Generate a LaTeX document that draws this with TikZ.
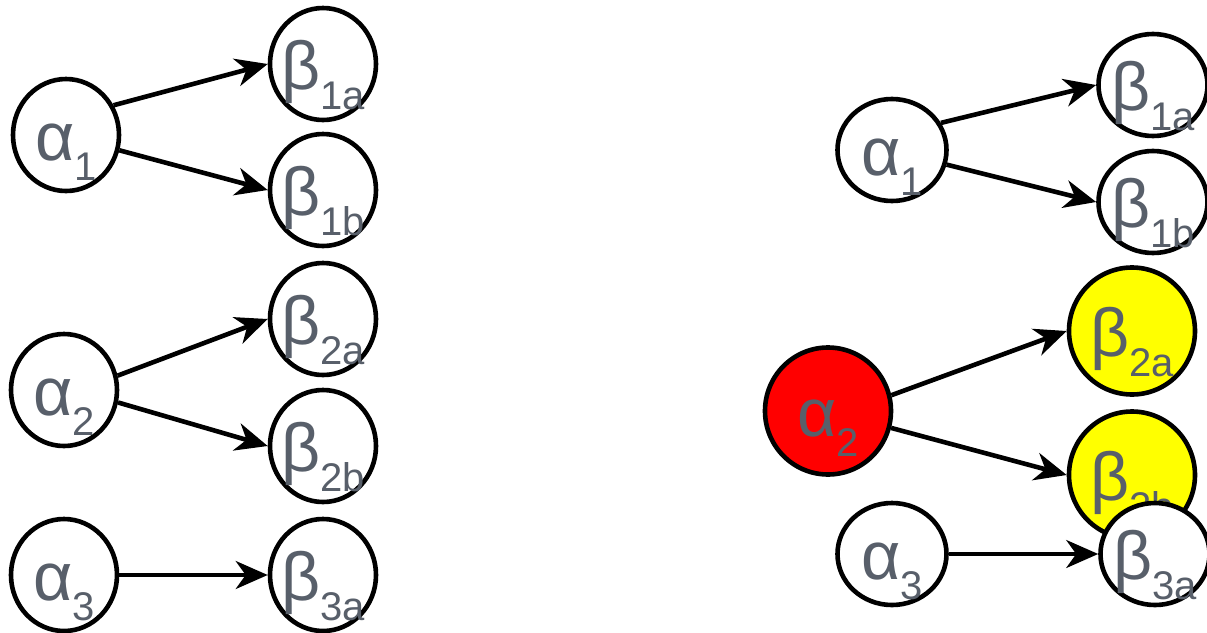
\documentclass[tikz,border=0pt]{standalone}
\usepackage{fontspec}
\setmainfont{Liberation Sans}
\usetikzlibrary{shapes.geometric,arrows.meta}
\definecolor{labelgray}{RGB}{88,95,106}
\definecolor{hotred}{RGB}{255,0,0}
\definecolor{hotyellow}{RGB}{255,255,0}
\newcommand{\lowsub}[1]{\raisebox{-10pt}{\fontsize{20}{20}\selectfont #1}}
\newcommand{\greek}[2]{\makebox[0pt]{#1\lowsub{#2}}}

\begin{document}
\begin{tikzpicture}[x=0.5pt,y=-0.5pt,>={Stealth[length=16pt,width=14pt,inset=5pt]},
		every node/.style={shape=ellipse,draw,line width=2.3pt,fill=white,
		inner sep=0pt,text=labelgray,text height=25pt,text depth=0pt,
		font=\fontsize{34}{34}\selectfont},
		leftvar/.style={minimum width=53pt,minimum height=56pt},
		rightvar/.style={minimum width=54.5pt,minimum height=51pt},
		bigvar/.style={minimum width=63pt,minimum height=63.5pt}]
		\useasboundingbox (0,0) rectangle (1207,633);
		% create the nodes.
		\node[leftvar] (a1) at (66,135) {\greek{α}{1}};
		\node[leftvar] (b1a) at (323,64) {\greek{β}{1a}};
		\node[leftvar] (b1b) at (323,190) {\greek{β}{1b}};
		\node[leftvar] (a2) at (64,390) {\greek{α}{2}};
		\node[leftvar] (b2a) at (323,319) {\greek{β}{2a}};
		\node[leftvar] (b2b) at (323,446) {\greek{β}{2b}};
		\node[leftvar] (a3) at (64,575) {\greek{α}{3}};
		\node[leftvar] (b3a) at (323,575) {\greek{β}{3a}};

		\node[rightvar] (ra1) at (892,150) {\greek{α}{1}};
		\node[rightvar] (rb1a) at (1153,85) {\greek{β}{1a}};
		\node[rightvar] (rb1b) at (1153,202) {\greek{β}{1b}};
		\node[bigvar,fill=hotred] (ra2) at (828,411) {\greek{α}{2}};
		\node[bigvar,fill=hotyellow] (rb2a) at (1132,331) {\greek{β}{2a}};
		\node[bigvar,fill=hotyellow] (rb2b) at (1132,475) {\greek{β}{2b}};
		\node[rightvar] (ra3) at (892,554) {\greek{α}{3}};
		\node[rightvar] (rb3a) at (1155,554) {\greek{β}{3a}};

		% connect the nodes
		\draw[->, line width=2.3pt] (a1.32) -- (b1a.west);
		\draw[->, line width=2.3pt] (a1.-16) -- (b1b.west);
		\draw[->, line width=2.3pt] (a2.15) -- (b2a.west);
		\draw[->, line width=2.3pt] (a2.-13) -- (b2b.west);
		\draw[->, line width=1.9pt] (a3.east) -- (b3a.west);
		\draw[->, line width=2.3pt] (ra1.29) -- (rb1a.west);
		\draw[->, line width=2.3pt] (ra1.-15) -- (rb1b.west);
		\draw[->, line width=2.3pt] (ra2.14) -- (rb2a.west);
		\draw[->, line width=2.3pt] (ra2.-15) -- (rb2b.west);
		\draw[->, line width=1.9pt] (ra3.east) -- (rb3a.west);
	\end{tikzpicture}
\end{document}
